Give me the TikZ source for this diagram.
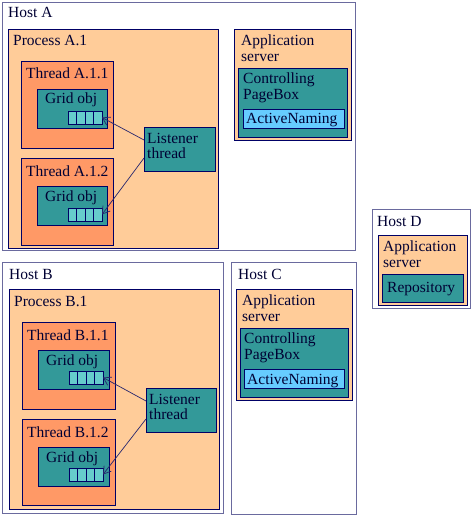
\documentclass[tikz,border=0pt]{standalone}
\usepackage{fontspec}
\setmainfont{Liberation Serif}
\usetikzlibrary{arrows.meta}
\definecolor{peach}{HTML}{FFCC99}
\definecolor{thr}{HTML}{FF9966}
\definecolor{teal2}{HTML}{339999}
\definecolor{queue}{HTML}{66CCCC}
\definecolor{anam}{HTML}{66CCFF}
\definecolor{ink}{HTML}{000033}
\definecolor{edge}{HTML}{000066}
\definecolor{hostedge}{HTML}{6A6A9E}
\tikzset{
  bx/.style={anchor=north west, inner sep=0pt, outer sep=0pt, line width=0.8pt},
  host/.style={bx, draw=hostedge, fill=white, line width=1pt},
  proc/.style={bx, draw=edge, fill=peach},
  thrd/.style={bx, draw=edge, fill=thr},
  grid/.style={bx, draw=edge, fill=teal2},
  anbox/.style={bx, draw=edge, fill=anam},
  qcell/.style={bx, draw=edge, fill=queue, minimum width=8.5pt, minimum height=13pt, line width=0.6pt},
  lbl/.style={anchor=base west, inner sep=0pt, text=ink, font=\fontsize{15.5}{15.5}\selectfont},
  mlbl/.style={anchor=north west, inner sep=0pt, text=ink, align=left, font=\fontsize{15.5}{15.5}\selectfont},
  conn/.style={draw=edge!70!gray, line width=0.7pt, -{Straight Barb[length=7pt,width=9pt]}}
}
\begin{document}
\begin{tikzpicture}[x=1pt,y=-1pt]
\useasboundingbox (0,0) rectangle (473,516);
% ---------- Host A ----------
\node[host, minimum width=353pt, minimum height=247pt] (hA) at (2,3) {};
\node[lbl] (hAl) at (8,18) {Host A};
\node[proc, minimum width=210pt, minimum height=219pt] (pA) at (8,29) {};
\node[lbl] (pAl) at (13,46) {Process A.1};
\node[thrd, minimum width=92pt, minimum height=87pt] (tA1) at (21,61) {};
\node[lbl] (tA1l) at (26,79) {Thread A.1.1};
\node[grid, minimum width=70pt, minimum height=39pt] (gA1) at (37,89) {};
\node[lbl] (gA1l) at (45,104) {Grid obj};
\node[qcell] (qA1a) at (68,111) {};
\node[qcell] (qA1b) at (76.5,111) {};
\node[qcell] (qA1c) at (85,111) {};
\node[qcell] (qA1d) at (93.5,111) {};
\node[thrd, minimum width=92pt, minimum height=87pt] (tA2) at (21,158) {};
\node[lbl] (tA2l) at (26,176) {Thread A.1.2};
\node[grid, minimum width=70pt, minimum height=39pt] (gA2) at (37,186) {};
\node[lbl] (gA2l) at (45,201) {Grid obj};
\node[qcell] (qA2a) at (68,208) {};
\node[qcell] (qA2b) at (76.5,208) {};
\node[qcell] (qA2c) at (85,208) {};
\node[qcell] (qA2d) at (93.5,208) {};
\node[grid, minimum width=71pt, minimum height=44pt] (lA) at (144,127) {};
\node[mlbl] (lAl) at (147,133) {Listener\\thread};
\draw[conn] (lA.west |- 0,140) -- (qA1d.east);
\draw[conn] (lA.west |- 0,158) -- (qA2d.east);
% App server A
\node[proc, minimum width=117pt, minimum height=111pt] (asA) at (234,29) {};
\node[mlbl] (asAl) at (241,35) {Application\\server};
\node[grid, minimum width=109pt, minimum height=69pt] (cpA) at (238,68) {};
\node[mlbl] (cpAl) at (243,73) {Controlling\\PageBox};
\node[anbox, minimum width=101pt, minimum height=19pt] (anA) at (243,109) {};
\node[lbl] (anAl) at (246,124) {ActiveNaming};
% ---------- Host B ----------
\node[host, minimum width=221pt, minimum height=251pt] (hB) at (2,262) {};
\node[lbl] (hBl) at (9,279) {Host B};
\node[proc, minimum width=210pt, minimum height=220pt] (pB) at (9,289) {};
\node[lbl] (pBl) at (14,306) {Process B.1};
\node[thrd, minimum width=93pt, minimum height=87pt] (tB1) at (22,322) {};
\node[lbl] (tB1l) at (27,340) {Thread B.1.1};
\node[grid, minimum width=71pt, minimum height=39pt] (gB1) at (38,350) {};
\node[lbl] (gB1l) at (46,365) {Grid obj};
\node[qcell] (qB1a) at (69,371) {};
\node[qcell] (qB1b) at (77.5,371) {};
\node[qcell] (qB1c) at (86,371) {};
\node[qcell] (qB1d) at (94.5,371) {};
\node[thrd, minimum width=93pt, minimum height=86pt] (tB2) at (22,419) {};
\node[lbl] (tB2l) at (27,437) {Thread B.1.2};
\node[grid, minimum width=71pt, minimum height=39pt] (gB2) at (38,447) {};
\node[lbl] (gB2l) at (46,462) {Grid obj};
\node[qcell] (qB2a) at (69,468) {};
\node[qcell] (qB2b) at (77.5,468) {};
\node[qcell] (qB2c) at (86,468) {};
\node[qcell] (qB2d) at (94.5,468) {};
\node[grid, minimum width=70pt, minimum height=44pt] (lB) at (146,388) {};
\node[mlbl] (lBl) at (149,394) {Listener\\thread};
\draw[conn] (lB.west |- 0,401) -- (qB1d.east);
\draw[conn] (lB.west |- 0,419) -- (qB2d.east);
% ---------- Host C ----------
\node[host, minimum width=125pt, minimum height=252pt] (hC) at (231,262) {};
\node[lbl] (hCl) at (238,279) {Host C};
\node[proc, minimum width=116pt, minimum height=111pt] (asC) at (236,289) {};
\node[mlbl] (asCl) at (242,295) {Application\\server};
\node[grid, minimum width=108pt, minimum height=69pt] (cpC) at (240,328) {};
\node[mlbl] (cpCl) at (244,333) {Controlling\\PageBox};
\node[anbox, minimum width=100pt, minimum height=19pt] (anC) at (244,369) {};
\node[lbl] (anCl) at (247,384) {ActiveNaming};
% ---------- Host D ----------
\node[host, minimum width=98pt, minimum height=99pt] (hD) at (372,209) {};
\node[lbl] (hDl) at (377,226) {Host D};
\node[proc, minimum width=89pt, minimum height=70pt] (asD) at (378,235) {};
\node[mlbl] (asDl) at (383,241) {Application\\server};
\node[grid, minimum width=81pt, minimum height=28pt] (rD) at (382,274) {};
\node[lbl] (rDl) at (387,292) {Repository};
\end{tikzpicture}
\end{document}
